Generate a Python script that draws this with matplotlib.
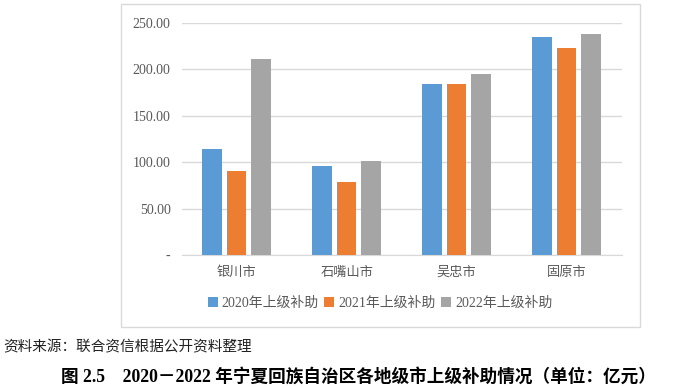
import matplotlib
matplotlib.use("Agg")
import matplotlib.pyplot as plt
from matplotlib.patches import Rectangle
import numpy as np

plt.rcParams['font.family'] = ['Liberation Serif', 'Noto Sans CJK SC', 'DejaVu Sans']

cities = ["银川市", "石嘴山市", "吴忠市", "固原市"]
series_names = ["2020年上级补助", "2021年上级补助", "2022年上级补助"]
sub_2020 = [114.0, 96.0, 184.0, 234.5]
sub_2021 = [90.5, 79.0, 184.0, 222.5]
sub_2022 = [211.0, 101.0, 194.5, 238.0]
colors = ["#5B9BD5", "#ED7D31", "#A5A5A5"]
y_ticks = [0, 50, 100, 150, 200, 250]
y_tick_labels = ["-", "50.00", "100.00", "150.00", "200.00", "250.00"]

fig = plt.figure(figsize=(7, 3.88), dpi=100)

# outer chart frame
fig.patches.append(Rectangle((120.7 / 700, 1 - 326.7 / 388), (640 - 120.7) / 700,
                             (326.7 - 4) / 388, transform=fig.transFigure,
                             fill=False, edgecolor="#D9D9D9", linewidth=1))

ax = fig.add_axes([181.7 / 700, 133 / 388, 440 / 700, 232.3 / 388])

x = np.arange(len(cities))
width = 0.177
step = 0.223
for i, (vals, name) in enumerate(zip([sub_2020, sub_2021, sub_2022], series_names)):
    ax.bar(x + (i - 1) * step, vals, width, color=colors[i], label=name, zorder=3)

ax.set_xlim(-0.5, 3.5)
ax.set_ylim(0, 250)
ax.set_yticks(y_ticks)
ax.set_yticklabels(y_tick_labels, fontsize=10, color="#595959")
ax.set_xticks(x)
ax.set_xticklabels(cities, fontsize=9.5, color="#595959", family=['Noto Sans CJK SC'])
ax.tick_params(axis="both", length=0)
ax.tick_params(axis="y", pad=8)
ax.tick_params(axis="x", pad=8)
ax.grid(axis="y", color="#D9D9D9", linewidth=1, zorder=0)
for s in ["top", "right", "left"]:
    ax.spines[s].set_visible(False)
ax.spines["bottom"].set_color("#D9D9D9")

handles, labels = ax.get_legend_handles_labels()
leg = fig.legend(handles, labels, loc="center", bbox_to_anchor=(380 / 700, 1 - 303 / 388),
                 ncol=3, frameon=False, fontsize=10, handlelength=0.7, handleheight=0.7,
                 handletextpad=0.3, columnspacing=0.4)
for t in leg.get_texts():
    t.set_color("#595959")

fig.text(3 / 700, 1 - 347 / 388, "资料来源：联合资信根据公开资料整理", fontsize=10.5,
         family=['Noto Sans CJK SC'], va="center", ha="left", color="#222222")
fig.text(358 / 700, 1 - 377 / 388, "图 2.5　2020－2022 年宁夏回族自治区各地级市上级补助情况（单位：亿元）",
         fontsize=12.7, fontweight="bold", va="center", ha="center", color="black")

fig.savefig("out.png", dpi=100)
